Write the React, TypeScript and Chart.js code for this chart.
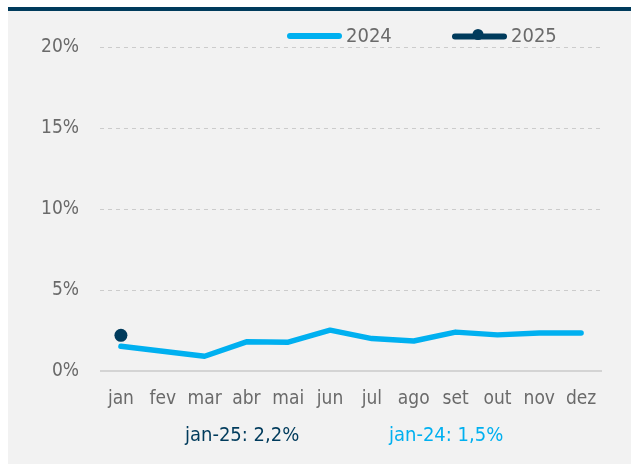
import React, { useEffect, useRef } from "react";
import { Chart, registerables } from "chart.js";

Chart.register(...registerables);

const months = ["jan", "fev", "mar", "abr", "mai", "jun", "jul", "ago", "set", "out", "nov", "dez"];
const values2024 = [1.53, 1.22, 0.91, 1.8, 1.78, 2.52, 2.0, 1.85, 2.4, 2.23, 2.35, 2.35];
const values2025: (number | null)[] = [2.2, null, null, null, null, null, null, null, null, null, null, null];
const yTicks = [0, 5, 10, 15, 20];
const seriesNames = ["2024", "2025"];
const footerTexts = ["jan-25: 2,2%", "jan-24: 1,5%"];

const LIGHT = "#00b0f0";
const DARK = "#003b5c";
const GRAY = "#6a6a6a";
const FONT = "'DejaVu Sans Condensed', 'DejaVu Sans', Roboto, sans-serif";
const FS = 19;
const FS2 = 20;

const W = 623;
const H = 453;

const overlay = {
  id: "overlay",
  afterDraw(chart: any) {
    const ctx = chart.ctx as CanvasRenderingContext2D;
    ctx.save();
    ctx.font = `${FS2}px ${FONT}`;
    ctx.textBaseline = "alphabetic";
    ctx.textAlign = "left";
    // legend 2024
    ctx.lineCap = "round";
    ctx.lineWidth = 6;
    ctx.strokeStyle = LIGHT;
    ctx.beginPath();
    ctx.moveTo(282, 25);
    ctx.lineTo(331, 25);
    ctx.stroke();
    ctx.fillStyle = GRAY;
    ctx.fillText(seriesNames[0], 338, 31);
    // legend 2025
    ctx.strokeStyle = DARK;
    ctx.beginPath();
    ctx.moveTo(447, 25.5);
    ctx.lineTo(496, 25.5);
    ctx.stroke();
    ctx.fillStyle = DARK;
    ctx.beginPath();
    ctx.arc(470, 23.5, 5.5, 0, Math.PI * 2);
    ctx.fill();
    ctx.fillStyle = GRAY;
    ctx.fillText(seriesNames[1], 503, 31);
    // footer texts
    ctx.fillStyle = DARK;
    ctx.fillText(footerTexts[0], 177, 430);
    ctx.fillStyle = LIGHT;
    ctx.fillText(footerTexts[1], 381, 430);
    ctx.restore();
  },
};

export default function App() {
  const ref = useRef<HTMLCanvasElement>(null);

  useEffect(() => {
    if (!ref.current) return;
    const chart = new Chart(ref.current, {
      type: "line",
      data: {
        labels: months,
        datasets: [
          {
            label: seriesNames[0],
            data: values2024,
            borderColor: LIGHT,
            backgroundColor: LIGHT,
            borderWidth: 5.5,
            borderCapStyle: "round",
            borderJoinStyle: "round",
            pointRadius: 0,
            pointHoverRadius: 0,
            tension: 0,
          },
          {
            label: seriesNames[1],
            data: values2025,
            borderColor: DARK,
            backgroundColor: DARK,
            showLine: false,
            pointRadius: 6.5,
            pointBorderWidth: 0,
          },
        ],
      },
      options: {
        responsive: false,
        animation: false,
        layout: { padding: { top: 36, right: 29, left: 0, bottom: 0 } },
        plugins: {
          legend: { display: false },
          tooltip: { enabled: false },
        },
        scales: {
          x: {
            offset: true,
            grid: { display: false, drawTicks: false },
            border: { display: false },
            ticks: {
              color: GRAY,
              font: { family: FONT, size: FS },
              padding: 17,
              maxRotation: 0,
              autoSkip: false,
            },
            afterFit: (s: any) => {
              s.height = 93;
            },
          },
          y: {
            min: 0,
            max: 20,
            afterBuildTicks: (s: any) => {
              s.ticks = yTicks.map((v) => ({ value: v }));
            },
            grid: {
              drawTicks: false,
              color: (c: any) => (c.tick && c.tick.value === 0 ? "#d4d4d4" : "#cccccc"),
              lineWidth: (c: any) => (c.tick && c.tick.value === 0 ? 2 : 1),
            },
            border: {
              display: false,
              dash: (c: any) => (c.tick && c.tick.value === 0 ? [] : [4, 4]),
            },
            ticks: {
              color: GRAY,
              font: { family: FONT, size: FS },
              padding: 21,
              callback: (v: any) => `${v}%`,
            },
            afterFit: (s: any) => {
              s.width = 92;
            },
          },
        },
      },
      plugins: [overlay],
    });
    return () => chart.destroy();
  }, []);

  return (
    <div
      style={{
        position: "absolute",
        left: 8,
        top: 7,
        width: W,
        height: H,
        background: "#f2f2f2",
        borderTop: `4px solid ${DARK}`,
      }}
    >
      <canvas ref={ref} width={W} height={H} style={{ display: "block" }} />
    </div>
  );
}
